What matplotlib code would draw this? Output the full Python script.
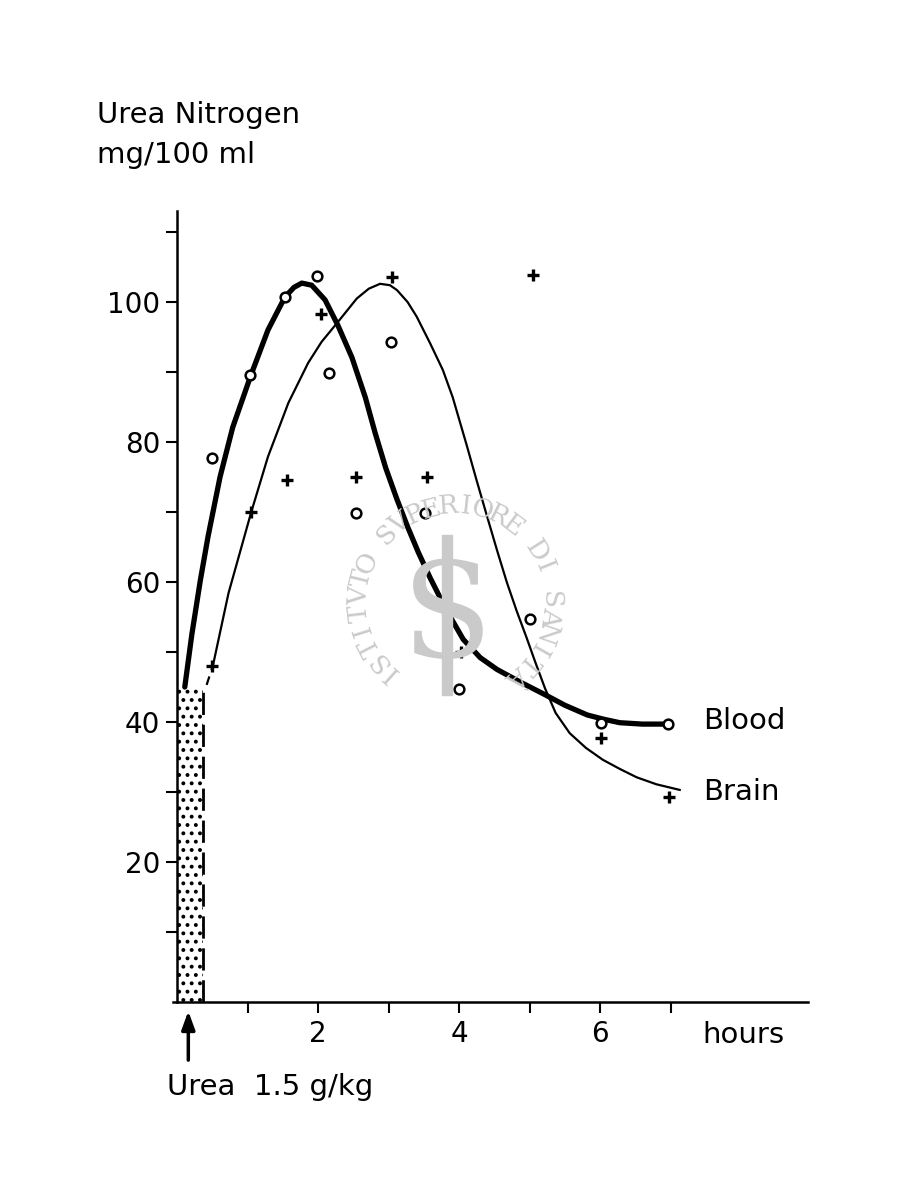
import numpy as np
import matplotlib.pyplot as plt
from matplotlib.patches import Rectangle

# measured points (hours, mg/100 ml)
blood_t = [0.5, 1.04, 1.53, 1.99, 2.16, 2.54, 3.04, 3.52, 4.0, 5.0, 6.01, 6.96]
blood_v = [77.7, 89.6, 100.7, 103.7, 89.9, 69.9, 94.3, 69.9, 44.7, 54.7, 39.9, 39.7]
brain_t = [0.5, 1.05, 1.56, 2.04, 2.54, 3.05, 3.55, 4.03, 5.05, 6.01, 6.98]
brain_v = [48.0, 70.0, 74.6, 98.3, 75.0, 103.6, 75.0, 50.0, 103.9, 37.7, 29.3]

# hand-drawn fitted curves
blood_curve_t = [0.11, 0.21, 0.33, 0.44, 0.61, 0.79, 1.05, 1.29, 1.53, 1.66, 1.77, 1.91, 2.1,
                 2.28, 2.48, 2.67, 2.81, 2.96, 3.12, 3.27, 3.42, 3.59, 3.82, 4.06, 4.3, 4.54,
                 4.87, 5.22, 5.5, 5.82, 6.05, 6.28, 6.6, 6.95]
blood_curve_v = [45.0, 52.5, 60.2, 66.5, 75.0, 82.1, 89.6, 96.0, 100.7, 102.1, 102.7, 102.4, 100.3,
                 96.7, 92.1, 86.4, 81.3, 76.3, 71.8, 67.9, 64.3, 60.6, 56.0, 51.8, 49.2, 47.5,
                 45.7, 43.9, 42.4, 41.0, 40.4, 39.9, 39.7, 39.7]
brain_dash_t = [0.42, 0.51]
brain_dash_v = [45.3, 48.1]
brain_curve_t = [0.51, 0.73, 1.05, 1.29, 1.58, 1.86, 2.05, 2.27, 2.55, 2.72, 2.88, 3.02, 3.12,
                 3.27, 3.4, 3.59, 3.77, 3.91, 4.11, 4.25, 4.4, 4.54, 4.68, 4.82, 4.96, 5.08,
                 5.22, 5.37, 5.57, 5.8, 6.04, 6.28, 6.52, 6.8, 7.13]
brain_curve_v = [48.1, 58.4, 69.9, 77.9, 85.6, 91.3, 94.3, 97.0, 100.5, 101.9, 102.6, 102.4, 101.7,
                 100.0, 97.9, 94.1, 90.3, 86.4, 79.5, 74.5, 69.3, 64.5, 59.9, 55.8, 52.0, 48.6,
                 44.8, 41.3, 38.4, 36.3, 34.6, 33.3, 32.1, 31.1, 30.3]
dose_t = 0.37
dose_v = 45.0

plt.rcParams['font.family'] = ['DejaVu Sans']
plt.rcParams['hatch.linewidth'] = 1.6
fig = plt.figure(figsize=(9, 12), dpi=100)
ax = fig.add_axes([172.8 / 900, 198 / 1200, (808 - 172.8) / 900, 791 / 1200])

# stippled urea dose bar
ax.bar(0, dose_v, width=dose_t, align='edge', facecolor='white', edgecolor='black',
       hatch='..', linewidth=0, zorder=1)
ax.plot([dose_t, dose_t], [0, dose_v], color='black', lw=2, dashes=(8, 3.5), zorder=2)

ax.plot(blood_curve_t, blood_curve_v, color='black', lw=3.8, solid_capstyle='round',
        solid_joinstyle='round', zorder=3)
ax.plot(brain_dash_t, brain_dash_v, color='black', lw=1.6, dashes=(4, 3), zorder=3)
ax.plot(brain_curve_t, brain_curve_v, color='black', lw=1.6, solid_joinstyle='round', zorder=3)

ax.plot(blood_t, blood_v, 'o', ms=7, mfc='white', mec='black', mew=1.8, zorder=4, clip_on=False)
ax.plot(brain_t, brain_v, '+', ms=9, mec='black', mew=2.4, zorder=4, clip_on=False)

ax.set_xlim(-0.06, 8.95)
ax.set_ylim(0, 113)
for s in ['top', 'right']:
    ax.spines[s].set_visible(False)
ax.spines['left'].set_position(('data', 0))
ax.spines['left'].set_linewidth(1.8)
ax.spines['bottom'].set_linewidth(1.8)

ax.set_xticks(range(1, 8))
ax.set_xticklabels(['', '2', '', '4', '', '6', ''])
ax.set_yticks(range(10, 111, 10))
ax.set_yticklabels(['' if v % 20 else str(v) for v in range(10, 111, 10)])
ax.tick_params(axis='both', direction='out', width=1.5, length=8, labelsize=20)
ax.tick_params(axis='y', pad=4)
ax.tick_params(axis='x', pad=5)

ax.text(8.04, -4.7, 'hours', fontsize=21, ha='center', va='center', clip_on=False)
ax.text(7.46, 40.1, 'Blood', fontsize=21, ha='left', va='center')
ax.text(7.46, 30.0, 'Brain', fontsize=21, ha='left', va='center')
ax.annotate('', xy=(0.16, -0.9), xytext=(0.16, -8.7),
            arrowprops=dict(arrowstyle='-|>,head_width=0.4,head_length=1.1', color='black', lw=2.5),
            annotation_clip=False)
ax.text(-0.14, -12.2, 'Urea  1.5 g/kg', fontsize=21, ha='left', va='center', clip_on=False)

fig.text(97 / 900, 1 - 123 / 1200, 'Urea Nitrogen', fontsize=21, ha='left', va='baseline')
fig.text(97 / 900, 1 - 163 / 1200, 'mg/100 ml', fontsize=21, ha='left', va='baseline')

# faint watermark stamp
wm = 'ISTITVTO SVPERIORE DI SANITÀ'
cx, cy, r = 455, 602, 96
angles = np.linspace(228, -50, len(wm))
for ch, a in zip(wm, angles):
    px = cx + r * np.cos(np.radians(a))
    py = cy - r * np.sin(np.radians(a))
    fig.text(px / 900, 1 - py / 1200, ch, fontsize=19, family='DejaVu Serif', color='#cacaca',
             ha='center', va='center', rotation=a - 90, zorder=0)
fig.patches.append(Rectangle((442 / 900, 1 - 695 / 1200), 10 / 900, 160 / 1200,
                             transform=fig.transFigure, color='#cacaca', zorder=0))
fig.text(447 / 900, 1 - 620 / 1200, 'S', fontsize=95, family='DejaVu Serif', color='#cacaca',
         ha='center', va='center', zorder=0)

ax.set_facecolor('none')
fig.savefig('out.png', dpi=100)
